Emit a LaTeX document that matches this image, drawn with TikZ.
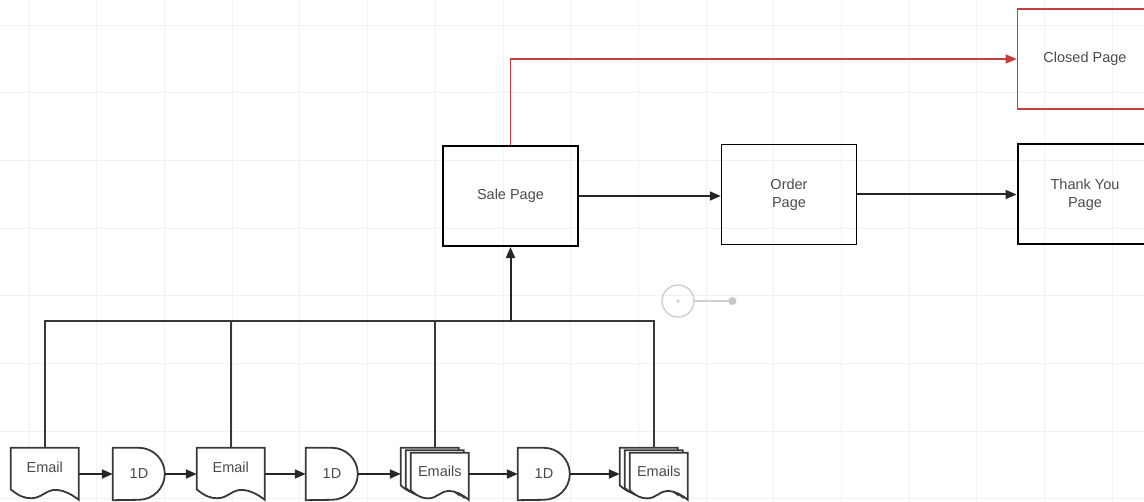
\documentclass[tikz,border=0pt]{standalone}
\usepackage{fontspec}
\setmainfont{Liberation Sans}
\usetikzlibrary{arrows.meta}

\definecolor{closedred}{RGB}{196,64,64}
\definecolor{inktext}{RGB}{75,75,75}

\tikzset{
  every node/.style={font=\fontsize{14.5}{18}\selectfont, text=inktext, align=center, inner sep=0pt},
  pagebox/.style={draw, minimum width=135, minimum height=100},
  docbox/.style={minimum width=68, minimum height=52},
  delaybox/.style={minimum width=52, minimum height=52},
  outline/.style={draw=black!78, line width=1.8pt, fill=white, line join=miter},
  flow/.style={draw=black!85, line width=2pt, -{Triangle[length=11pt,width=9pt]}},
  wire/.style={draw=black!78, line width=2pt},
  gridline/.style={draw=black!5, line width=0.8pt},
}

% document shape drawn at scope origin: width, height
\newcommand{\wavydoc}[2]{%
  \draw[outline] (#1,0) -- (0,0) -- (0,{0.8*#2})
    .. controls ({0.12*#1},{0.93*#2}) and ({0.2*#1},{0.97*#2}) .. ({0.3*#1},{0.97*#2})
    .. controls ({0.45*#1},{0.97*#2}) and ({0.52*#1},{0.81*#2}) .. ({0.65*#1},{0.81*#2})
    .. controls ({0.78*#1},{0.81*#2}) and ({0.9*#1},{0.9*#2}) .. (#1,#2) -- cycle;}

\begin{document}
\begin{tikzpicture}[x=1pt,y=-1pt]
\useasboundingbox (0,0) rectangle (1144,502);
\clip (0,0) rectangle (1144,502);

% background grid
\draw[gridline, shift={(29,25)}] (-29,-25) grid[xstep=67.7,ystep=-67.7] (1115,477);

% Pages
\node[pagebox, line width=2.1pt] (sale) at (510.5,196) {Sale Page};
\node[pagebox, line width=1.4pt] (order) at (789,194.5) {Order\\Page};
\node[pagebox, line width=2pt] (thanks) at (1085,194.5) {Thank You\\Page};
\node[pagebox, draw=closedred, line width=1.6pt] (closed) at (1085,59) {Closed Page};

% Emails and delays
\node[docbox] (em1) at (45,474) {};
\node[delaybox] (dl1) at (139,474) {};
\node[docbox] (em2) at (231,474) {};
\node[delaybox] (dl2) at (332,474) {};
\node[docbox] (ems1) at (435,474) {};
\node[delaybox] (dl3) at (544,474) {};
\node[docbox] (ems2) at (654,474) {};

% Shape: Email
\begin{scope}[shift={(em1.north west)}]
  \wavydoc{68}{52}
  \node at (34,20) {Email};
\end{scope}
% Shape: Email
\begin{scope}[shift={(em2.north west)}]
  \wavydoc{68}{52}
  \node at (34,20) {Email};
\end{scope}
% Shape: Emails (stack)
\foreach \stk in {ems1,ems2}{
  \begin{scope}[shift={(\stk.north west)}]
    \begin{scope}[shift={(0,0)}]\wavydoc{58}{47}\end{scope}
    \begin{scope}[shift={(5,2.5)}]\wavydoc{58}{47}\end{scope}
    \begin{scope}[shift={(10,5)}]\wavydoc{58}{47}\end{scope}
    \node at (39,24) {Emails};
  \end{scope}
}
% Shape: Delay
\foreach \dly in {dl1,dl2,dl3}{
  \draw[outline] (\dly.north west) -- ++(26,0) arc[start angle=-90,end angle=90,radius=26]
    -- (\dly.south west) -- cycle;
  \node at (\dly) {1D};
}

% bottom row connectors
\draw[flow] (em1) -- (dl1);
\draw[flow] (dl1) -- (em2);
\draw[flow] (em2) -- (dl2);
\draw[flow] (dl2) -- (ems1);
\draw[flow] (ems1) -- (dl3);
\draw[flow] (dl3) -- (ems2);

% bus up to Sale Page
\coordinate (bus) at (510.5,321);
\draw[wire] (em1.north) |- (bus);
\draw[wire] (em2.north) |- (bus);
\draw[wire] (ems1.north) |- (bus);
\draw[wire] (ems2.north) |- (bus);
\draw[flow] (bus) -- (sale.south);

% page flow
\draw[flow] (sale) -- (order.west |- sale);
\draw[flow] (order) -- (thanks);
\draw[flow, draw=closedred, line width=1.6pt] (sale.north) |- (closed.west);

% connection handle (editor ghost)
\draw[black!18, line width=1.5pt] (678,301) circle (16);
\fill[black!18] (678,301) circle (1.8);
\draw[black!18, line width=1.5pt] (694,301) -- (732,301);
\fill[black!22] (732.5,301) circle (4);
\end{tikzpicture}
\end{document}
